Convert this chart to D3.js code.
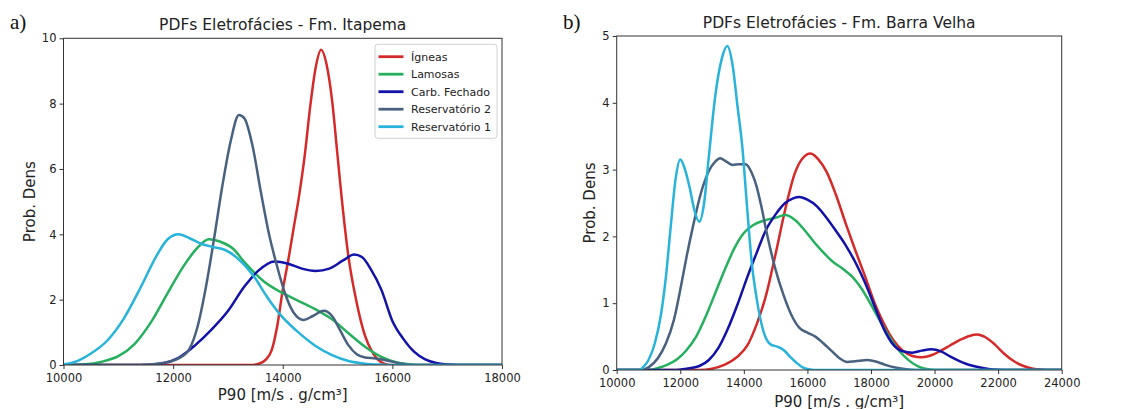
<!DOCTYPE html>
<html><head><meta charset="utf-8">
<script src="https://cdn.jsdelivr.net/npm/d3@7/dist/d3.min.js"></script>
<style>
body{margin:0;background:#fff}
svg{display:block}
</style>
</head><body>
<svg id="chart" width="1124" height="409"></svg>
<script>
// ---- series meta ----
const seriesNames = ["Ígneas", "Lamosas", "Carb. Fechado", "Reservatório 2", "Reservatório 1"];
const seriesColors = ["#d42a2a", "#26b05e", "#1212a8", "#48617f", "#27b3da"];

// ---- panel a) Fm. Itapema : [P90, density] ----
const igneasA = [[10000,0],[13400,0],[13550,0.03],[13700,0.18],[13800,0.46],[13900,1.2],[14000,2.3],[14100,3.2],[14200,4.2],[14300,5.2],[14400,6.4],[14500,7.9],[14600,9.1],[14700,9.65],[14800,9.2],[14900,8.1],[15000,6.4],[15070,5.2],[15200,3.3],[15350,1.9],[15500,0.9],[15650,0.35],[15800,0.08],[15950,0],[18000,0]];
const lamosasA = [[10000,0],[10400,0.02],[10700,0.1],[11000,0.27],[11300,0.65],[11600,1.32],[11900,2.2],[12200,3.05],[12450,3.6],[12650,3.85],[12850,3.78],[13100,3.55],[13300,3.15],[13500,2.8],[13700,2.5],[14000,2.2],[14300,1.95],[14600,1.7],[14900,1.4],[15200,0.97],[15500,0.56],[15800,0.25],[16100,0.07],[16400,0.01],[16600,0],[18000,0]];
const carbA = [[10000,0],[11400,0],[11800,0.05],[12100,0.22],[12400,0.6],[12700,1.08],[13000,1.65],[13300,2.4],[13550,2.88],[13850,3.17],[14100,3.1],[14350,2.95],[14600,2.88],[14850,2.95],[15100,3.2],[15300,3.38],[15450,3.3],[15600,2.95],[15800,2.3],[16000,1.35],[16200,0.8],[16400,0.4],[16600,0.17],[16800,0.06],[17000,0.015],[17200,0],[18000,0]];
const res2A = [[10000,0],[11400,0],[11800,0.06],[12100,0.2],[12300,0.5],[12450,1.2],[12600,2.4],[12750,3.9],[12900,5.5],[13050,6.85],[13200,7.65],[13300,7.55],[13450,6.7],[13600,5.3],[13750,4.0],[13900,3.0],[14050,2.15],[14200,1.6],[14380,1.38],[14550,1.5],[14750,1.66],[14900,1.5],[15050,1.05],[15200,0.6],[15350,0.33],[15500,0.23],[15700,0.2],[15900,0.14],[16100,0.06],[16300,0.01],[16500,0],[18000,0]];
const res1A = [[10000,0.02],[10250,0.12],[10500,0.35],[10800,0.75],[11100,1.42],[11400,2.35],[11700,3.35],[11900,3.85],[12100,4.0],[12300,3.88],[12500,3.72],[12700,3.62],[12950,3.52],[13250,3.15],[13500,2.65],[13700,2.12],[13950,1.55],[14250,1.05],[14600,0.58],[14900,0.3],[15200,0.12],[15500,0.04],[15800,0.01],[16000,0],[18000,0]];

// ---- panel b) Fm. Barra Velha ----
const igneasB = [[10000,0],[12600,0],[13000,0.02],[13400,0.08],[13800,0.2],[14100,0.36],[14400,0.68],[14700,1.12],[15000,1.74],[15300,2.4],[15600,2.94],[15850,3.17],[16100,3.24],[16350,3.15],[16600,2.97],[16900,2.62],[17200,2.2],[17500,1.8],[17800,1.42],[18100,1.02],[18400,0.7],[18700,0.45],[19000,0.29],[19300,0.21],[19600,0.19],[19900,0.22],[20200,0.29],[20500,0.37],[20800,0.45],[21100,0.51],[21350,0.53],[21600,0.49],[21900,0.38],[22200,0.24],[22500,0.13],[22800,0.06],[23100,0.02],[23400,0.005],[23700,0],[24000,0]];
const lamosasB = [[10000,0],[11000,0],[11300,0.03],[11600,0.08],[11900,0.16],[12200,0.3],[12500,0.5],[12800,0.8],[13100,1.15],[13400,1.5],[13700,1.82],[14000,2.05],[14300,2.17],[14650,2.24],[15000,2.28],[15300,2.32],[15600,2.25],[15900,2.1],[16200,1.92],[16500,1.76],[16800,1.62],[17100,1.52],[17400,1.4],[17700,1.22],[18000,0.98],[18300,0.72],[18600,0.48],[18900,0.28],[19200,0.14],[19500,0.05],[19800,0.01],[20000,0],[24000,0]];
const carbB = [[10000,0],[11800,0],[12200,0.02],[12600,0.06],[12900,0.15],[13200,0.33],[13500,0.62],[13800,0.98],[14100,1.38],[14400,1.75],[14700,2.1],[15000,2.33],[15300,2.5],[15550,2.57],[15750,2.59],[16000,2.55],[16300,2.45],[16600,2.28],[16900,2.08],[17200,1.87],[17500,1.62],[17800,1.32],[18100,0.97],[18400,0.62],[18700,0.38],[19000,0.28],[19300,0.26],[19600,0.29],[19900,0.31],[20200,0.28],[20500,0.2],[20800,0.13],[21100,0.075],[21400,0.04],[21700,0.015],[22000,0.004],[22300,0],[24000,0]];
const res2B = [[10000,0],[10800,0],[11000,0.04],[11300,0.18],[11550,0.4],[11800,0.75],[12000,1.2],[12200,1.7],[12400,2.15],[12650,2.65],[12900,2.98],[13100,3.12],[13250,3.17],[13450,3.12],[13650,3.07],[13850,3.08],[14050,3.08],[14250,2.95],[14400,2.75],[14550,2.45],[14700,2.1],[14850,1.78],[15000,1.5],[15250,1.12],[15500,0.82],[15750,0.63],[16000,0.56],[16250,0.5],[16500,0.4],[16750,0.29],[17000,0.18],[17250,0.12],[17500,0.13],[17900,0.15],[18200,0.12],[18500,0.07],[18800,0.035],[19100,0.012],[19400,0],[24000,0]];
const res1B = [[10000,0],[10700,0],[10850,0.05],[11000,0.15],[11200,0.4],[11400,0.85],[11550,1.4],[11700,2.15],[11850,2.85],[12000,3.15],[12150,3.0],[12300,2.72],[12450,2.38],[12600,2.22],[12750,2.5],[12900,3.2],[13100,4.1],[13300,4.65],[13480,4.85],[13650,4.55],[13800,3.95],[13950,3.35],[14100,2.45],[14250,1.6],[14400,1.08],[14550,0.7],[14700,0.47],[14850,0.38],[15050,0.35],[15250,0.3],[15450,0.2],[15650,0.11],[15850,0.04],[16050,0.01],[16200,0],[24000,0]];

// ---- ticks ----
const xTicksA = [10000, 12000, 14000, 16000, 18000];
const yTicksA = [0, 2, 4, 6, 8, 10];
const xTicksB = [10000, 12000, 14000, 16000, 18000, 20000, 22000, 24000];
const yTicksB = [0, 1, 2, 3, 4, 5];

const titleA = "PDFs Eletrofácies - Fm. Itapema";
const titleB = "PDFs Eletrofácies - Fm. Barra Velha";
const xLabel = "P90 [m/s . g/cm³]";
const yLabel = "Prob. Dens";

const SANS = "'DejaVu Sans', Verdana, sans-serif";
const SERIF = "'Liberation Serif', 'Times New Roman', serif";
const svg = d3.select("#chart");

function drawPanel(cfg) {
  const x = d3.scaleLinear().domain(cfg.xDomain).range([cfg.left, cfg.right]);
  const y = d3.scaleLinear().domain(cfg.yDomain).range([cfg.bottom, cfg.top]);
  const g = svg.append("g");

  const clipId = "clip" + cfg.id;
  g.append("clipPath").attr("id", clipId).append("rect")
    .attr("x", cfg.left).attr("y", cfg.top - 2)
    .attr("width", cfg.right - cfg.left).attr("height", cfg.bottom - cfg.top + 2);

  const line = d3.line().x(d => x(d[0])).y(d => y(d[1])).curve(d3.curveMonotoneX);
  const lines = g.append("g").attr("clip-path", `url(#${clipId})`);
  cfg.series.forEach((s, i) => {
    lines.append("path").datum(s)
      .attr("d", line).attr("fill", "none")
      .attr("stroke", seriesColors[i]).attr("stroke-width", 2.5)
      .attr("stroke-linejoin", "round");
  });

  const xAxis = g.append("g").attr("transform", `translate(0,${cfg.bottom})`)
    .call(d3.axisBottom(x).tickValues(cfg.xTicks).tickSize(4).tickPadding(4.5).tickFormat(d3.format("d")));
  const yAxis = g.append("g").attr("transform", `translate(${cfg.left},0)`)
    .call(d3.axisLeft(y).tickValues(cfg.yTicks).tickSize(4).tickPadding(3).tickFormat(d3.format("d")));
  [xAxis, yAxis].forEach(a => {
    a.select(".domain").remove();
    a.selectAll(".tick line").attr("stroke", "#333");
    a.selectAll("text").style("font-size", "11.5px").style("font-family", SANS).style("fill", "#222");
  });

  g.append("rect").attr("x", cfg.left).attr("y", cfg.top)
    .attr("width", cfg.right - cfg.left).attr("height", cfg.bottom - cfg.top)
    .attr("fill", "none").attr("stroke", "#333").attr("stroke-width", 1);

  g.append("text").attr("x", (cfg.left + cfg.right) / 2).attr("y", cfg.titleY)
    .attr("text-anchor", "middle").style("font-family", SANS).style("font-size", "15.5px")
    .style("fill", "#222").text(cfg.title);
  g.append("text").attr("x", (cfg.left + cfg.right) / 2).attr("y", cfg.xLabelY)
    .attr("text-anchor", "middle").style("font-family", SANS).style("font-size", "15px")
    .style("fill", "#222").text(xLabel);
  g.append("text")
    .attr("transform", `translate(${cfg.yLabelX},${(cfg.top + cfg.bottom) / 2}) rotate(-90)`)
    .attr("text-anchor", "middle").style("font-family", SANS).style("font-size", "15px")
    .style("fill", "#222").text(yLabel);
  g.append("text").attr("x", cfg.tagX).attr("y", 29)
    .style("font-family", SERIF).style("font-size", "21px")
    .style("fill", "#111").text(cfg.tag);
  return { x, y, g };
}

drawPanel({
  id: "A", left: 63.5, right: 502, top: 38.3, bottom: 365,
  xDomain: [10000, 18000], yDomain: [0, 10], xTicks: xTicksA, yTicks: yTicksA,
  series: [igneasA, lamosasA, carbA, res2A, res1A],
  title: titleA, titleY: 30, xLabelY: 400, yLabelX: 35, tag: "a)", tagX: 10
});
drawPanel({
  id: "B", left: 616.7, right: 1061.7, top: 36, bottom: 370,
  xDomain: [10000, 24000], yDomain: [0, 5], xTicks: xTicksB, yTicks: yTicksB,
  series: [igneasB, lamosasB, carbB, res2B, res1B],
  title: titleB, titleY: 28, xLabelY: 406.5, yLabelX: 595, tag: "b)", tagX: 563
});

// ---- legend (panel a) ----
const leg = svg.append("g").attr("transform", "translate(375,44.3)");
leg.append("rect").attr("width", 122).attr("height", 94).attr("rx", 3)
  .attr("fill", "#fff").attr("stroke", "#d0d0d0").attr("stroke-width", 1);
seriesNames.forEach((n, i) => {
  const yy = 12.4 + i * 17.5;
  leg.append("line").attr("x1", 3.5).attr("x2", 28.5).attr("y1", yy).attr("y2", yy)
    .attr("stroke", seriesColors[i]).attr("stroke-width", 2.8);
  leg.append("text").attr("x", 36).attr("y", yy).attr("dy", "0.35em")
    .style("font-family", SANS).style("font-size", "11px").style("fill", "#222").text(n);
});
</script>
</body></html>
